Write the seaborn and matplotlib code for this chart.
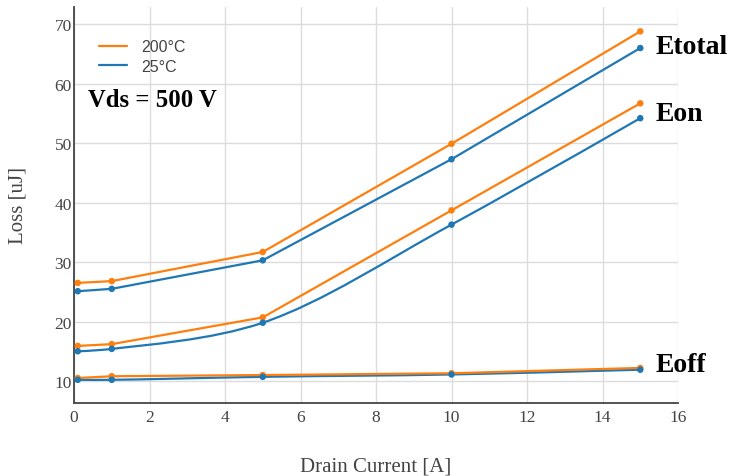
import numpy as np
import pandas as pd
import matplotlib
matplotlib.use("Agg")
import matplotlib.pyplot as plt
from matplotlib.path import Path
from matplotlib.patches import PathPatch
from matplotlib.lines import Line2D
import seaborn as sns

# Switching losses vs drain current at Vds = 500 V
current = [0.1, 1, 5, 10, 15]
etotal_200 = [26.5, 26.8, 31.7, 49.9, 68.8]
etotal_25 = [25.1, 25.5, 30.3, 47.3, 66.0]
eon_200 = [15.9, 16.2, 20.7, 38.7, 56.7]
eon_25 = [15.0, 15.4, 19.8, 36.3, 54.2]
eoff_200 = [10.5, 10.8, 11.0, 11.3, 12.2]
eoff_25 = [10.2, 10.2, 10.7, 11.1, 11.9]
temps = ["200°C", "25°C"]
curves = ["Etotal", "Eon", "Eoff"]
x_ticks = [0, 2, 4, 6, 8, 10, 12, 14, 16]
y_ticks = [10, 20, 30, 40, 50, 60, 70]

series = {
    ("Etotal", "200°C"): etotal_200,
    ("Etotal", "25°C"): etotal_25,
    ("Eon", "200°C"): eon_200,
    ("Eon", "25°C"): eon_25,
    ("Eoff", "200°C"): eoff_200,
    ("Eoff", "25°C"): eoff_25,
}
# traces drawn with a spline shape; the rest are straight segments
smoothed = {("Eon", "25°C"), ("Eoff", "25°C")}

rows = []
for (curve, temp), vals in series.items():
    for x, v in zip(current, vals):
        rows.append({"current": x, "loss": v, "curve": curve, "temp": temp})
df = pd.DataFrame(rows)

palette = {"200°C": "#ff7f0e", "25°C": "#1f77b4"}
SERIF = "Liberation Serif"
SANS = "Liberation Sans"
GREY = "#444444"

sns.set_theme(style="whitegrid")
plt.rcParams["font.family"] = [SERIF, "DejaVu Serif"]

fig = plt.figure(figsize=(7.29, 4.77), dpi=100)
ax = fig.add_axes([74 / 729, 1 - 404 / 477, 604 / 729, 396 / 477])
ax.set_xlim(0, 16)
ax.set_ylim(6.3, 72.9)


def smooth_path(ax, xs, ys, smoothness=1.0):
    """Catmull-Rom style spline through the points, computed in display space."""
    pts = ax.transData.transform(np.column_stack([xs, ys]))
    n = len(pts)
    tangents = []
    for i in range(1, n - 1):
        prev, this, nxt = pts[i - 1], pts[i], pts[i + 1]
        d1 = prev - this
        d2 = nxt - this
        d1a = np.hypot(*d1) ** 0.5
        d2a = np.hypot(*d2) ** 0.5
        num = (d2a * d2a * d1 - d1a * d1a * d2) * smoothness
        den1 = 3 * d2a * (d1a + d2a)
        den2 = 3 * d1a * (d1a + d2a)
        tangents.append((this + num / den1, this - num / den2))
    verts = [pts[0], tangents[0][0], pts[1]]
    codes = [Path.MOVETO, Path.CURVE3, Path.CURVE3]
    for i in range(2, n - 1):
        verts += [tangents[i - 2][1], tangents[i - 1][0], pts[i]]
        codes += [Path.CURVE4] * 3
    verts += [tangents[n - 3][1], pts[n - 1]]
    codes += [Path.CURVE3] * 2
    data_verts = ax.transData.inverted().transform(np.array(verts))
    return Path(data_verts, codes)


for temp in ["25°C", "200°C"]:
    for curve in curves:
        sub = df[(df["curve"] == curve) & (df["temp"] == temp)]
        if (curve, temp) in smoothed:
            path = smooth_path(ax, sub["current"].to_numpy(), sub["loss"].to_numpy())
            ax.add_patch(PathPatch(path, facecolor="none", edgecolor=palette[temp],
                                   lw=1.6, capstyle="round", joinstyle="round", zorder=3))
        else:
            sns.lineplot(data=sub, x="current", y="loss", color=palette[temp],
                         lw=1.6, sort=False, estimator=None, legend=False, ax=ax,
                         zorder=3)

sns.scatterplot(data=df, x="current", y="loss", hue="temp", palette=palette,
                s=22, edgecolor="none", legend=False, ax=ax, zorder=4)

ax.set_xlim(0, 16)
ax.set_ylim(6.3, 72.9)
ax.set_xticks(x_ticks)
ax.set_yticks(y_ticks)
ax.grid(True, color="#dcdcdc", lw=1)
ax.set_facecolor("white")
for side in ["top", "right"]:
    ax.spines[side].set_visible(False)
for side in ["left", "bottom"]:
    ax.spines[side].set_color(GREY)
    ax.spines[side].set_linewidth(1.3)
ax.tick_params(axis="both", labelsize=12.5, colors=GREY, length=0)
ax.tick_params(axis="x", pad=4)
ax.tick_params(axis="y", pad=1.5)
for lab in ax.get_xticklabels() + ax.get_yticklabels():
    lab.set_color(GREY)

ax.set_xlabel("Drain Current [A]", fontsize=15, color=GREY, va="center")
ax.set_ylabel("Loss [uJ]", fontsize=15, color=GREY, va="center")
ax.xaxis.set_label_coords(0.5, -(467 - 404) / 396)
ax.yaxis.set_label_coords(-(74 - 18) / 604, 0.5)

handles = [Line2D([0], [0], color=palette[t], lw=1.6) for t in temps]
leg = ax.legend(handles, temps, loc="upper left", bbox_to_anchor=(0.018, 0.955),
                frameon=False, handlelength=1.75, handletextpad=0.9,
                labelspacing=0.3, prop={"family": SANS, "size": 11.5})
for t in leg.get_texts():
    t.set_color(GREY)

ax.text(0.37, 57.4, "Vds = 500 V", fontsize=17.8, fontweight="bold", color="black",
        va="center", ha="left")
label_font = dict(fontsize=20, fontweight="bold", color="black", va="center", ha="left")
ax.text(15.4, 66.3, "Etotal", **label_font)
ax.text(15.4, 55.0, "Eon", **label_font)
ax.text(15.4, 12.8, "Eoff", **label_font)

fig.savefig("out.png", dpi=100)
